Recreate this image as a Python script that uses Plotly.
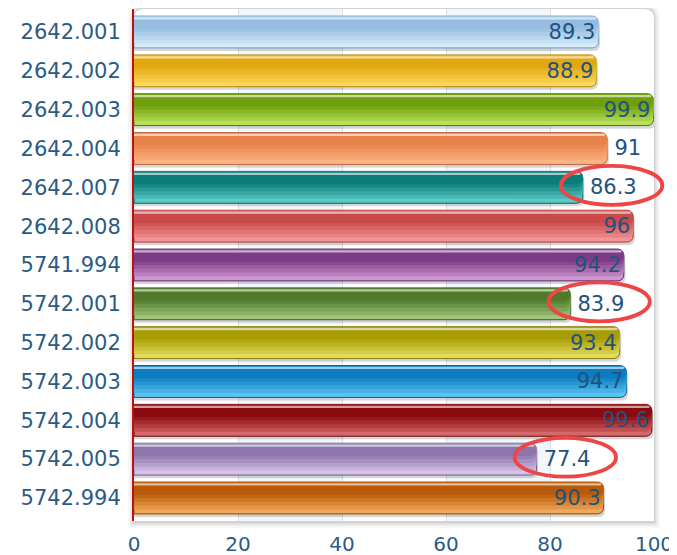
import plotly.graph_objects as go

codes = ['2642.001', '2642.002', '2642.003', '2642.004', '2642.007', '2642.008',
         '5741.994', '5742.001', '5742.002', '5742.003', '5742.004', '5742.005', '5742.994']
scores = [89.3, 88.9, 99.9, 91, 86.3, 96, 94.2, 83.9, 93.4, 94.7, 99.6, 77.4, 90.3]
circled = ['2642.007', '5742.001', '5742.005']
x_ticks = [0, 20, 40, 60, 80, 100]

# glossy bar colours: darker top tone and lighter bottom tone
dark = ['#94bde0', '#e2a812', '#6f9f0c', '#e7834a', '#0b7d78', '#c94a4a', '#7d3a85',
        '#4f7a2a', '#a99d06', '#0a7cbf', '#8a0a0e', '#8c76ac', '#b85a08']
light = ['#d6ecfb', '#fbd75a', '#b9e05a', '#fcb385', '#5bcbc6', '#f49494', '#cf97d2',
         '#a2c47a', '#e2dc5c', '#5cc4f2', '#d4686a', '#d6c3e8', '#f2a95a']
edge = ['#6f9cc4', '#b88a08', '#4f7a06', '#c0683a', '#0a5e5a', '#a83a3a', '#5e2a66',
        '#3c5e1e', '#857a04', '#085e96', '#6a0608', '#6e5a8e', '#8e4606']

text_pos = ['outside' if (c in circled or v == 91) else 'inside' for c, v in zip(codes, scores)]
# a thin space keeps the outside labels a little clear of the bar end
labels = [('\u2009' if p == 'outside' else '') + f'{v:g}' for v, p in zip(scores, text_pos)]

blue_txt = '#22527e'
W = 0.82
R = 6


def mix(c1, c2, t):
    a = [int(c1[i:i + 2], 16) for i in (1, 3, 5)]
    b = [int(c2[i:i + 2], 16) for i in (1, 3, 5)]
    return '#%02x%02x%02x' % tuple(round(a[k] + (b[k] - a[k]) * t) for k in range(3))


fig = go.Figure()

# soft shadow under each bar
fig.add_trace(go.Bar(x=[v + 0.3 for v in scores], y=codes, orientation='h',
                     offset=-W / 2 + 0.08, width=W,
                     marker=dict(color='rgba(0,0,0,0.16)', cornerradius=R, line_width=0),
                     hoverinfo='skip'))

# base bar (light bottom tone) with dark outline
fig.add_trace(go.Bar(x=scores, y=codes, orientation='h', offset=-W / 2, width=W,
                     marker=dict(color=light, cornerradius=R,
                                 line=dict(color=edge, width=1)),
                     hoverinfo='skip'))

# nested layers sharing the top edge -> vertical gradient
for frac, t in [(0.86, 0.25), (0.74, 0.45), (0.62, 0.65), (0.50, 0.85), (0.40, 1.0)]:
    fig.add_trace(go.Bar(x=scores, y=codes, orientation='h', offset=-W / 2 + 0.012,
                         width=W * frac - 0.012,
                         marker=dict(color=[mix(l, d, t) for l, d in zip(light, dark)],
                                     cornerradius=R, line_width=0),
                         hoverinfo='skip'))

# thin highlight along the top
fig.add_trace(go.Bar(x=[v - 0.45 for v in scores], y=codes, orientation='h',
                     offset=-W / 2 + 0.04 * W, width=0.07 * W,
                     marker=dict(color='rgba(255,255,255,0.6)', cornerradius=1, line_width=0),
                     hoverinfo='skip'))

# value labels
fig.add_trace(go.Bar(x=scores, y=codes, orientation='h', offset=-W / 2, width=W,
                     marker=dict(color='rgba(0,0,0,0)', line_width=0),
                     text=labels, textposition=text_pos, insidetextanchor='end',
                     textfont=dict(family='DejaVu Sans', size=21, color=blue_txt),
                     cliponaxis=False, hoverinfo='skip'))

# rounded white panel with a soft shadow
pw, ph = 520.0, 512.0
shapes = []
for d, op in [(6, 0.03), (4, 0.04), (2.5, 0.05), (1.2, 0.06)]:
    x0, x1 = -d / pw, 1 + d / pw
    y0, y1 = -d / ph - 1 / ph, 1 + d / ph
    rx, ry = (10 + d) / pw, (10 + d) / ph
    shapes.append(dict(type='path', xref='paper', yref='paper', layer='below',
                       path=f'M {x0},{y0} L {x0},{y1 - ry} Q {x0},{y1} {x0 + rx},{y1} '
                            f'L {x1 - rx},{y1} Q {x1},{y1} {x1},{y1 - ry} L {x1},{y0} Z',
                       fillcolor=f'rgba(0,0,0,{op})', line_width=0))
rx, ry = 10 / pw, 10 / ph
shapes.append(dict(type='path', xref='paper', yref='paper', layer='below',
                   path=f'M 0,0 L 0,{1 - ry} Q 0,1 {rx},1 L {1 - rx},1 Q 1,1 1,{1 - ry} L 1,0 Z',
                   fillcolor='white', line_width=0))
for a, b in [(20, 40), (60, 80)]:
    shapes.append(dict(type='rect', xref='x', yref='paper', x0=a, x1=b, y0=0, y1=1,
                       layer='below', fillcolor='#f2f7fb', line_width=0))

# red rings round the weak scores (x in paper units so they may run past the panel)
x_max = x_ticks[-1]
for c in circled:
    i = codes.index(c)
    v = scores[i]
    shapes.append(dict(type='circle', xref='paper', yref='y',
                       x0=(v - 4.2) / x_max, x1=(v + 15.3) / x_max,
                       y0=i - 0.55, y1=i + 0.45, line=dict(color='#ee4646', width=3.8)))

# page body has an 8px margin, so the figure is a bit smaller than the window
fig.update_layout(
    width=669, height=547,
    margin=dict(l=126, r=23, t=1, b=34),
    barmode='overlay', showlegend=False,
    paper_bgcolor='white', plot_bgcolor='rgba(0,0,0,0)',
    font=dict(family='DejaVu Sans', color='#2a5b86'),
    shapes=shapes,
)
fig.update_xaxes(range=[0, x_max], tickvals=x_ticks, showgrid=True, gridcolor='#d3e2e8',
                 gridwidth=1, zeroline=False, showline=False, ticks='', automargin=False,
                 tickfont=dict(size=20, color='#2a5b86'), ticklabelstandoff=9)
fig.update_yaxes(type='category', categoryorder='array', categoryarray=codes,
                 range=[12.593, -0.592], showgrid=False, zeroline=False, automargin=False,
                 showline=True, linecolor='#b81414', linewidth=2, ticks='',
                 tickfont=dict(size=21, color='#2a5b86'), ticklabelstandoff=7)

fig.write_html('out.html')
